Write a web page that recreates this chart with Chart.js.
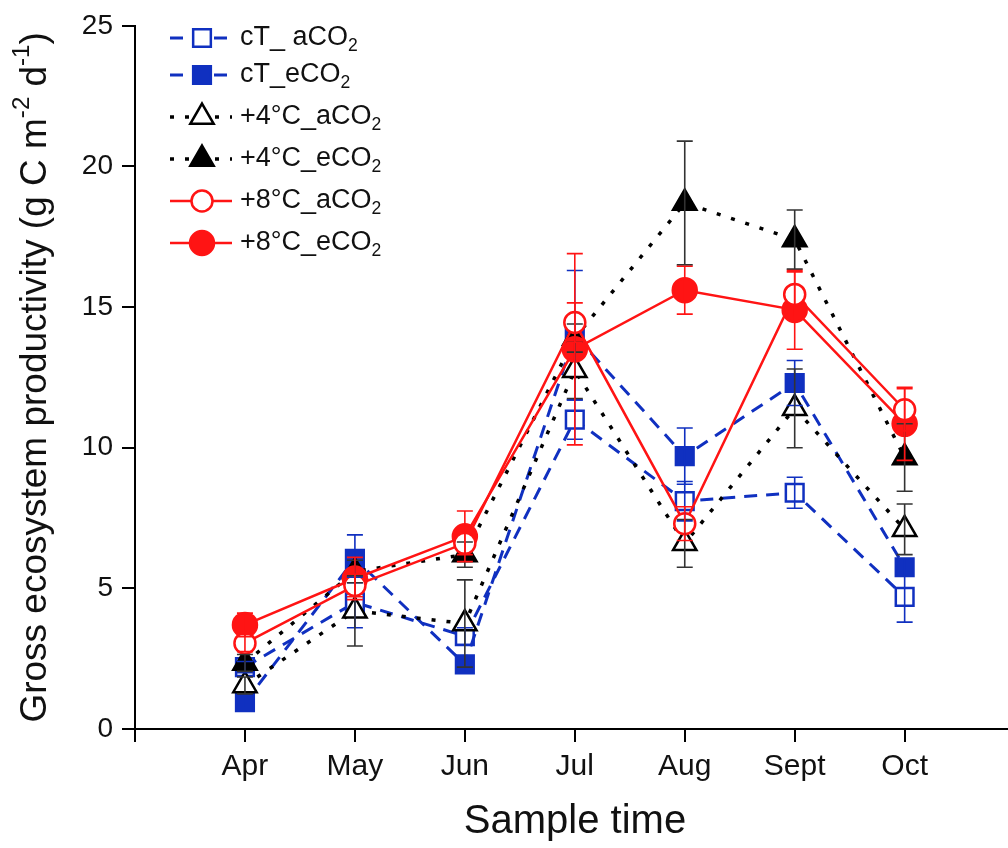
<!DOCTYPE html>
<html>
<head>
<meta charset="utf-8">
<title>Gross ecosystem productivity</title>
<script src="https://cdn.jsdelivr.net/npm/chart.js@4.4.1/dist/chart.umd.min.js"></script>
<style>
  body { margin: 0; background: #fff; }
  canvas { display: block; }
</style>
</head>
<body>
<canvas id="gepChart" width="1008" height="848"></canvas>
<script>
const months = ["Apr", "May", "Jun", "Jul", "Aug", "Sept", "Oct"];
const yTicks = [0, 5, 10, 15, 20, 25];

// means and standard errors per treatment, Apr..Oct
const cTaCO2 = [2.2, 4.5, 3.3, 11.0, 8.1, 8.4, 4.7];
const cTaCO2Err = [0.2, 0.9, 0.3, 0.7, 0.7, 0.55, 0.9];
const cTeCO2 = [0.95, 6.05, 2.3, 14.0, 9.7, 12.3, 5.75];
const cTeCO2Err = [0.2, 0.85, 0.3, 2.3, 1.0, 0.8, 0.3];
const w4aCO2 = [1.55, 4.2, 3.75, 12.75, 6.6, 11.4, 7.1];
const w4aCO2Err = [0.3, 1.25, 1.55, 1.0, 0.85, 1.4, 0.9];
const w4eCO2 = [2.35, 5.6, 6.2, 13.9, 18.7, 17.4, 9.65];
const w4eCO2Err = [0.3, 0.4, 0.45, 0.5, 2.2, 1.05, 1.2];
const w8aCO2 = [3.05, 5.1, 6.6, 14.45, 7.3, 15.45, 11.35];
const w8aCO2Err = [0.3, 0.4, 0.4, 0.7, 0.6, 0.8, 0.75];
const w8eCO2 = [3.7, 5.35, 6.85, 13.5, 15.6, 14.9, 10.85];
const w8eCO2Err = [0.42, 0.75, 0.9, 3.4, 0.85, 1.4, 1.3];

const BLUE = "#1030c0";
const RED = "#ff1414";
const BLACK = "#000";
const FONT = "'Liberation Sans', Arial, sans-serif";

const toPoints = vals => vals.map((v, i) => ({ x: i + 1, y: v }));

function series(label, vals, errs, opts) {
  return Object.assign({
    label: label,
    data: toPoints(vals),
    errors: errs,
    showLine: true,
    pointBorderWidth: 2.5,
    pointHoverRadius: 0,
    tension: 0
  }, opts);
}

const datasets = [
  series(["cT_ aCO", "2"], cTaCO2, cTaCO2Err, {
    borderColor: BLUE, borderWidth: 3, borderDash: [13, 9],
    pointStyle: "rect", pointRadius: 12.5, pointBackgroundColor: "#fff", pointBorderColor: BLUE,
    errColor: BLUE, order: 3
  }),
  series(["cT_eCO", "2"], cTeCO2, cTeCO2Err, {
    borderColor: BLUE, borderWidth: 3, borderDash: [13, 9],
    pointStyle: "rect", pointRadius: 12.5, pointBackgroundColor: BLUE, pointBorderColor: BLUE,
    errColor: BLUE, order: 2
  }),
  series(["+4°C_aCO", "2"], w4aCO2, w4aCO2Err, {
    borderColor: BLACK, borderWidth: 3.5, borderDash: [4, 11],
    pointStyle: "triangle", pointRadius: 13.5, pointBackgroundColor: "#fff", pointBorderColor: BLACK,
    errColor: "#333", order: 1
  }),
  series(["+4°C_eCO", "2"], w4eCO2, w4eCO2Err, {
    borderColor: BLACK, borderWidth: 3.5, borderDash: [4, 11],
    pointStyle: "triangle", pointRadius: 13.5, pointBackgroundColor: BLACK, pointBorderColor: BLACK,
    errColor: "#333", order: 1
  }),
  series(["+8°C_aCO", "2"], w8aCO2, w8aCO2Err, {
    borderColor: RED, borderWidth: 2.5,
    pointStyle: "circle", pointRadius: 10.5, pointBackgroundColor: "#fff", pointBorderColor: RED,
    errColor: RED, order: 0
  }),
  series(["+8°C_eCO", "2"], w8eCO2, w8eCO2Err, {
    borderColor: RED, borderWidth: 2.5,
    pointStyle: "circle", pointRadius: 12, pointBackgroundColor: RED, pointBorderColor: RED,
    errColor: RED, order: 0
  })
];

// draw text made of normal / sub / sup pieces
function richWidth(ctx, parts, size) {
  let w = 0;
  parts.forEach(p => {
    ctx.font = `${p.s ? size * 0.65 : size}px ${FONT}`;
    w += ctx.measureText(p.t).width;
  });
  return w;
}

function drawRich(ctx, parts, x, y, size) {
  parts.forEach(p => {
    const fs = p.s ? size * 0.65 : size;
    ctx.font = `${fs}px ${FONT}`;
    let dy = 0;
    if (p.s === "sub") dy = size * 0.3;
    if (p.s === "sup") dy = -size * 0.38;
    ctx.fillText(p.t, x, y + dy);
    x += ctx.measureText(p.t).width;
  });
}

const errorBars = {
  id: "errorBars",
  afterDatasetsDraw(chart) {
    const { ctx, scales: { x, y } } = chart;
    chart.data.datasets.forEach(ds => {
      ctx.save();
      ctx.strokeStyle = ds.errColor;
      ctx.lineWidth = 1.6;
      ds.data.forEach((pt, j) => {
        const e = ds.errors[j];
        const px = x.getPixelForValue(pt.x);
        const top = y.getPixelForValue(pt.y + e);
        const bot = y.getPixelForValue(pt.y - e);
        ctx.beginPath();
        ctx.moveTo(px, top); ctx.lineTo(px, bot);
        ctx.moveTo(px - 8, top); ctx.lineTo(px + 8, top);
        ctx.moveTo(px - 8, bot); ctx.lineTo(px + 8, bot);
        ctx.stroke();
      });
      ctx.restore();
    });
  }
};

const legendRows = [38, 75, 117, 159, 201, 243];

const decorations = {
  id: "decorations",
  afterDraw(chart) {
    const ctx = chart.ctx;
    const area = chart.chartArea;
    ctx.save();
    ctx.fillStyle = "#111";
    ctx.textBaseline = "middle";

    // legend
    chart.data.datasets.forEach((ds, i) => {
      const ly = legendRows[i];
      ctx.save();
      ctx.strokeStyle = ds.borderColor;
      ctx.lineWidth = ds.borderWidth;
      ctx.setLineDash(ds.borderDash || []);
      ctx.beginPath();
      ctx.moveTo(170, ly);
      ctx.lineTo(232, ly);
      ctx.stroke();
      ctx.setLineDash([]);
      ctx.fillStyle = ds.pointBackgroundColor;
      ctx.strokeStyle = ds.pointBorderColor;
      ctx.lineWidth = ds.pointBorderWidth;
      Chart.helpers.drawPoint(ctx, {
        pointStyle: ds.pointStyle, radius: ds.pointRadius, rotation: 0, borderWidth: ds.pointBorderWidth
      }, 202, ly);
      ctx.restore();
      drawRich(ctx, [{ t: ds.label[0] }, { t: ds.label[1], s: "sub" }], 240, ly, 27);
    });

    // x title
    const xParts = [{ t: "Sample time" }];
    ctx.textAlign = "left";
    const xw = richWidth(ctx, xParts, 40);
    drawRich(ctx, xParts, 575 - xw / 2, 822, 40);

    // y title, rotated
    const yParts = [
      { t: "Gross ecosystem productivity (g C m" }, { t: "-2", s: "sup" },
      { t: " d" }, { t: "-1", s: "sup" }, { t: ")" }
    ];
    ctx.translate(36, (area.top + area.bottom) / 2);
    ctx.rotate(-Math.PI / 2);
    const yw = richWidth(ctx, yParts, 37);
    drawRich(ctx, yParts, -yw / 2, 0, 37);
    ctx.restore();
  }
};

new Chart(document.getElementById("gepChart"), {
  type: "scatter",
  data: { datasets: datasets },
  options: {
    responsive: false,
    animation: false,
    events: [],
    layout: { autoPadding: false, padding: { top: 24, right: 0, left: 0, bottom: 0 } },
    plugins: { legend: { display: false }, tooltip: { enabled: false } },
    scales: {
      x: {
        type: "linear",
        min: 0,
        max: 7.94,
        afterBuildTicks(scale) {
          scale.ticks = [0].concat(months.map((m, i) => i + 1)).map(v => ({ value: v }));
        },
        afterFit(scale) {
          scale.height = 119;
          scale.paddingLeft = 0;
          scale.paddingRight = 0;
        },
        ticks: {
          callback: v => months[v - 1] || "",
          font: { family: FONT, size: 30 },
          color: "#111",
          padding: 7,
          maxRotation: 0,
          autoSkip: false
        },
        grid: { drawOnChartArea: false, drawTicks: true, tickLength: 13, color: BLACK, lineWidth: 2 },
        border: { color: BLACK, width: 2 }
      },
      y: {
        min: 0,
        max: 25,
        afterBuildTicks(scale) {
          scale.ticks = yTicks.map(v => ({ value: v }));
        },
        afterFit(scale) { scale.width = 135; },
        ticks: {
          font: { family: FONT, size: 28 },
          color: "#111",
          padding: 9
        },
        grid: { drawOnChartArea: false, drawTicks: true, tickLength: 13, color: BLACK, lineWidth: 2 },
        border: { color: BLACK, width: 2 }
      }
    }
  },
  plugins: [errorBars, decorations]
});
</script>
</body>
</html>
